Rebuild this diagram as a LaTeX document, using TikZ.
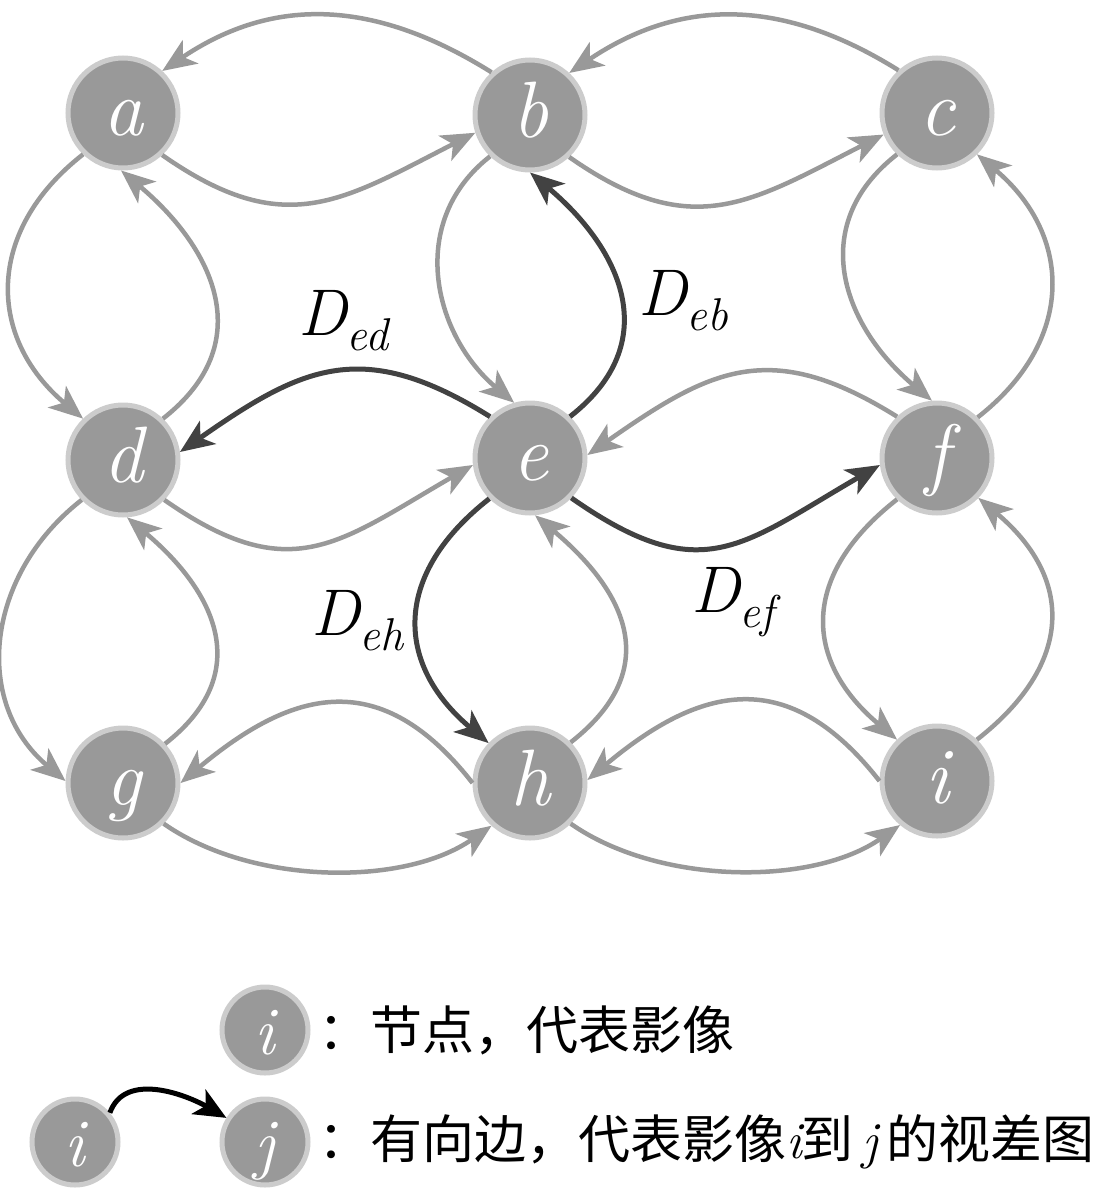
\documentclass[tikz,border=0pt]{standalone}
\usepackage{fontspec}
\newfontfamily\cjk{Noto Sans CJK SC}
\newcommand{\tms}{\rmfamily}
\usetikzlibrary{arrows.meta}
\definecolor{nfill}{HTML}{999999}
\definecolor{nring}{HTML}{CCCCCC}
\definecolor{gedge}{HTML}{999999}
\definecolor{dedge}{HTML}{424242}
\begin{document}
\begin{tikzpicture}[x=1pt,y=1pt,
  vtx/.style={circle, fill=nfill, draw=nring, line width=5pt, minimum size=110pt,
    inner sep=0pt, text=white, font=\tms\fontsize{80}{80}\selectfont\itshape,
    text height=44pt, text depth=0pt},
  lvtx/.style={vtx, minimum size=86pt, font=\tms\fontsize{68}{68}\selectfont\itshape, text height=48pt},
  ge/.style={draw=gedge, line width=4.5pt, -{Stealth[length=34pt,width=28pt,inset=9pt]}},
  de/.style={ge, draw=dedge, line width=5pt},
  lab/.style={anchor=base west, inner sep=0pt, font=\tms\fontsize{66}{66}\selectfont\itshape},
  leg/.style={anchor=west, inner sep=0pt, font=\cjk\fontsize{52}{52}\selectfont}
]
\fill[white] (0,0) rectangle (1100,-1189);
\useasboundingbox (0,0) rectangle (1100,-1189);

% nodes
\node[vtx] (a) at (123,-113) {a};
\node[vtx] (b) at (530,-115) {b};
\node[vtx] (c) at (937,-113) {c};
\node[vtx] (d) at (123,-460) {d};
\node[vtx] (e) at (530,-458) {e};
\node[vtx] (f) at (937,-458) {f};
\node[vtx] (g) at (123,-783) {g};
\node[vtx] (h) at (530,-783) {h};
\node[vtx] (i) at (937,-781) {i};

% row 1
\draw[ge] (b.132) .. controls +(148:136) and +(34:136) .. (a.47);
\draw[ge] (c.132) .. controls +(148:136) and +(34:136) .. (b.47);
\draw[ge] (a.-47) .. controls +(-35:150) and +(207:150) .. (b.198);
\draw[ge] (b.-47) .. controls +(-35:150) and +(207:150) .. (c.202);
% row 2
\draw[de] (e.134) .. controls +(148:150) and +(35:150) .. (d.8);
\draw[ge] (f.134) .. controls +(148:150) and +(35:150) .. (e.3);
\draw[ge] (d.-44) .. controls +(-35:155) and +(210:155) .. (e.187);
\draw[de] (e.-44) .. controls +(-35:160) and +(210:160) .. (f.187);
% row 3
\draw[ge] (h.180) .. controls +(128:148) and +(40:148) .. (g.0);
\draw[ge] (i.180) .. controls +(128:148) and +(40:148) .. (h.3);
\draw[ge] (g.-45) .. controls +(-35:107) and +(215:107) .. (h.228);
\draw[ge] (h.-45) .. controls +(-35:107) and +(215:107) .. (i.230);
% column 1
\draw[ge] (a.226) .. controls +(218:125) and +(140:125) .. (d.134);
\draw[ge] (d.46) .. controls +(38:122) and +(320:122) .. (a.268);
\draw[ge] (d.224) .. controls +(218:122) and +(140:122) .. (g.178);
\draw[ge] (g.43) .. controls +(38:115) and +(320:115) .. (d.274);
% column 2
\draw[ge] (b.226) .. controls +(218:106) and +(140:106) .. (e.106);
\draw[de] (e.46) .. controls +(38:120) and +(320:120) .. (b.270);
\draw[de] (e.225) .. controls +(218:123) and +(140:123) .. (h.136);
\draw[ge] (h.45) .. controls +(38:119) and +(320:119) .. (e.275);
% column 3
\draw[ge] (c.226) .. controls +(218:116) and +(140:116) .. (f.95);
\draw[ge] (f.45) .. controls +(38:125) and +(320:125) .. (c.314);
\draw[ge] (f.226) .. controls +(218:123) and +(140:123) .. (i.134);
\draw[ge] (i.46) .. controls +(38:124) and +(320:124) .. (f.316);

% labels
\node[lab] (led) at (298,-335) {D\raisebox{-15pt}{\fontsize{46}{46}\selectfont ed}};
\node[lab] (leb) at (638,-315) {D\raisebox{-15pt}{\fontsize{46}{46}\selectfont eb}};
\node[lab] (leh) at (311,-635) {D\raisebox{-15pt}{\fontsize{46}{46}\selectfont eh}};
\node[lab] (lef) at (691,-612) {D\raisebox{-15pt}{\fontsize{46}{46}\selectfont ef}};

% legend
\node[lvtx] (li) at (265,-1030) {i};
\node[leg] (t1) at (318,-1030) {：节点，代表影像};
\node[lvtx] (lsrc) at (75,-1142) {i};
\node[lvtx] (ldst) at (265,-1142) {j};
\draw[line width=5pt, -{Stealth[length=32pt,width=28pt,inset=8pt]}]
  (lsrc.40) .. controls +(70:45) and +(150:45) .. (ldst.148);
\node[leg] (t2) at (318,-1142) {：有向边，代表影像{\tms\itshape i}到\,{\tms\itshape j}\,的视差图};
\end{tikzpicture}
\end{document}
